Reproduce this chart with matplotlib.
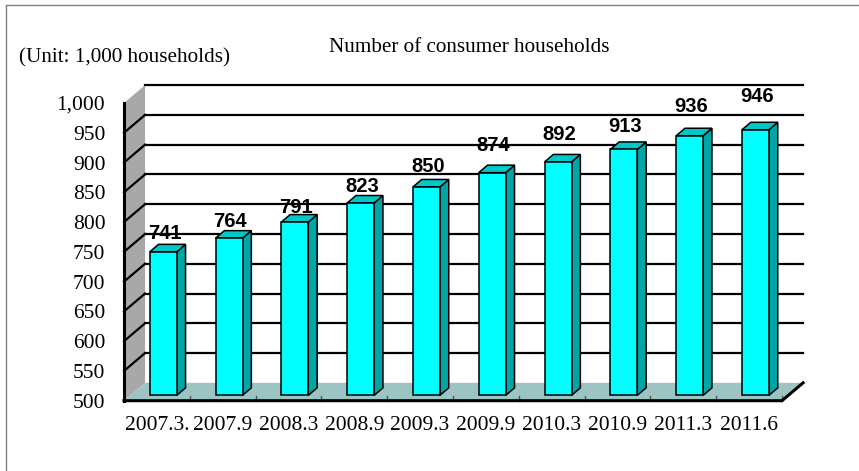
import matplotlib
matplotlib.use("Agg")
import matplotlib.pyplot as plt
from matplotlib.patches import Polygon
from matplotlib.lines import Line2D

categories = ['2007.3.', '2007.9', '2008.3', '2008.9', '2009.3',
              '2009.9', '2010.3', '2010.9', '2011.3', '2011.6']
households = [741, 764, 791, 823, 850, 874, 892, 913, 936, 946]
# how far each value label sits above its bar (value units)
label_gap = [22, 18, 15, 18, 25, 37, 37, 30, 40, 47]
yticks = list(range(500, 1001, 50))

# pseudo-3D depth of the plot box, in data units
DX, DY = 0.32, 30
f0, f1 = 0.30, 0.72      # front/back depth of the bars
bw = 0.41

fig = plt.figure(figsize=(8.59, 4.71), dpi=100)
ax = fig.add_axes([124/859, 70.3/471, 658/859, 297.7/471])
ax.set_xlim(0, 10)
ax.set_ylim(500, 1000)
for s in ax.spines.values():
    s.set_visible(False)
ax.patch.set_visible(False)

serif = 'Liberation Serif'
ax.set_yticks(yticks)
ax.set_yticklabels([f'{v:,}' for v in yticks], fontfamily=serif, fontsize=15.5)
ax.set_xticks([i + 0.5 for i in range(len(categories))])
ax.set_xticklabels(categories, fontfamily=serif, fontsize=15.5)
ax.tick_params(axis='y', length=0, pad=13.5)
ax.tick_params(axis='x', length=0, pad=11)

# left wall
ax.add_patch(Polygon([(0, 500), (0, 1000), (DX, 1000 + DY), (DX, 500 + DY)],
                     closed=True, facecolor='#a8a8a8', edgecolor='none',
                     clip_on=False, zorder=1))
# floor
ax.add_patch(Polygon([(0, 500), (10, 500), (10 + DX, 500 + DY), (DX, 500 + DY)],
                     closed=True, facecolor='#9cc4c2', edgecolor='none',
                     clip_on=False, zorder=1))

# gridlines on back wall and left wall
for v in yticks[1:]:
    ax.plot([DX, 10 + DX], [v + DY, v + DY], color='black', lw=1.6,
            clip_on=False, zorder=2)
    if v < 1000:
        ax.plot([0, DX], [v, v + DY], color='black', lw=1.6,
                clip_on=False, zorder=2)

# floor ticks
for k in range(1, 11):
    ax.plot([k, k], [500, 508], color='#555555', lw=1, clip_on=False, zorder=2)

# axis lines
ax.plot([0, 0], [500, 1000], color='black', lw=2.2, clip_on=False, zorder=3)
ax.plot([0, 10, 10 + DX], [500, 500, 500 + DY], color='black', lw=2.2,
        clip_on=False, zorder=3, solid_joinstyle='miter')

# bars
xs = [i + 0.5 + f0 * DX for i in range(len(categories))]
base = 500 + f0 * DY
ax.bar(xs, [v - 500 for v in households], bottom=base, width=bw,
       color='#00ffff', edgecolor='black', linewidth=1.1, zorder=5, clip_on=False)
ddx, ddy = (f1 - f0) * DX, (f1 - f0) * DY
for x, v, g in zip(xs, households, label_gap):
    x1 = x + bw / 2
    x0 = x - bw / 2
    top = v + f0 * DY
    ax.add_patch(Polygon([(x1, base), (x1, top), (x1 + ddx, top + ddy), (x1 + ddx, base + ddy)],
                         closed=True, facecolor='#00a5a5', edgecolor='black',
                         lw=1.1, clip_on=False, zorder=4))
    ax.add_patch(Polygon([(x0, top), (x1, top), (x1 + ddx, top + ddy), (x0 + ddx, top + ddy)],
                         closed=True, facecolor='#00c8c8', edgecolor='black',
                         lw=1.1, clip_on=False, zorder=4))
    ax.text(x + 0.02, top + g, f'{v}', ha='center', va='baseline',
            fontfamily='Liberation Sans', fontweight='bold', fontsize=14.5,
            zorder=6, clip_on=False)

fig.text(469/859, 1 - 48/471, 'Number of consumer households', ha='center',
         va='center', fontfamily=serif, fontsize=15.2)
fig.text(19/859, 1 - 58/471, '(Unit: 1,000 households)', ha='left',
         va='center', fontfamily=serif, fontsize=15.2)

# outer frame
fig.add_artist(Line2D([6/859, 1], [1 - 5/471, 1 - 5/471], color='#808080', lw=1))
fig.add_artist(Line2D([6/859, 6/859], [0, 1 - 5/471], color='#808080', lw=1))

fig.savefig('out.png', dpi=100)
